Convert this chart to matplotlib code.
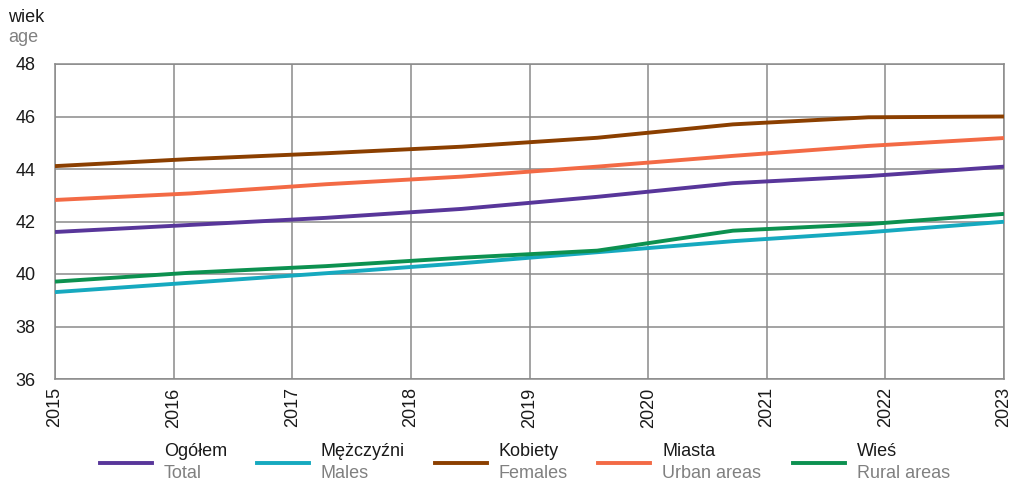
import matplotlib
matplotlib.use("Agg")
import matplotlib.pyplot as plt
from matplotlib.lines import Line2D
import numpy as np

plt.rcParams['font.family'] = ['Liberation Sans', 'DejaVu Sans']

years = [2015, 2016, 2017, 2018, 2019, 2020, 2021, 2022, 2023]
y_ticks = [36, 38, 40, 42, 44, 46, 48]

# 8 observations spread evenly across the 2015-2023 span
ogolem = [41.60, 41.87, 42.14, 42.48, 42.94, 43.46, 43.73, 44.09]
mezczyzni = [39.31, 39.67, 40.03, 40.41, 40.83, 41.25, 41.59, 41.99]
kobiety = [44.11, 44.38, 44.60, 44.85, 45.19, 45.70, 45.97, 46.00]
miasta = [42.82, 43.07, 43.42, 43.71, 44.09, 44.50, 44.88, 45.18]
wies = [39.71, 40.05, 40.30, 40.62, 40.89, 41.65, 41.90, 42.29]

labels_pl = ["Ogółem", "Mężczyźni", "Kobiety", "Miasta", "Wieś"]
labels_en = ["Total", "Males", "Females", "Urban areas", "Rural areas"]
colors = ["#58369a", "#16a9bf", "#8b3f00", "#f36a45", "#0c9150"]
series = [ogolem, mezczyzni, kobiety, miasta, wies]

W, H = 1009, 482
fig = plt.figure(figsize=(W / 100, H / 100), dpi=100)
ax = fig.add_axes([55 / W, 1 - 379 / H, (1004 - 55) / W, (379 - 64) / H])

n = len(ogolem)
xs = np.linspace(years[0], years[-1], n)
for s, c in zip(series, colors):
    ax.plot(xs, s, color=c, lw=2.8, solid_capstyle='butt', zorder=3)

ax.set_xlim(years[0], years[-1])
ax.set_ylim(y_ticks[0], y_ticks[-1])
ax.set_xticks(years)
ax.set_xticklabels([str(y) for y in years], rotation=90, fontsize=13, color='#1a1a1a')
ax.set_yticks(y_ticks)
ax.set_yticklabels([str(v) for v in y_ticks], fontsize=13, color='#1a1a1a')
ax.tick_params(length=0, pad=6)
ax.tick_params(axis='y', pad=14)
ax.grid(True, color='#8a8a8a', lw=1.1)
for sp in ax.spines.values():
    sp.set_color('#8a8a8a')
    sp.set_linewidth(1.1)

fig.text(8 / W, 1 - 18 / H, "wiek", fontsize=13, color='#1a1a1a', va='center', ha='left')
fig.text(8 / W, 1 - 37 / H, "age", fontsize=13, color='#808080', va='center', ha='left')

handle_x = [100, 257, 435, 598, 793]
for i in range(len(labels_pl)):
    hx = handle_x[i]
    fig.add_artist(Line2D([hx / W, (hx + 52) / W], [1 - 463 / H, 1 - 463 / H],
                          color=colors[i], lw=2.8, transform=fig.transFigure))
    fig.text((hx + 64) / W, 1 - 452 / H, labels_pl[i], fontsize=13, color='#1a1a1a',
             va='center', ha='left')
    fig.text((hx + 64) / W, 1 - 473 / H, labels_en[i], fontsize=13, color='#808080',
             va='center', ha='left')

fig.savefig("out.png", dpi=100)
